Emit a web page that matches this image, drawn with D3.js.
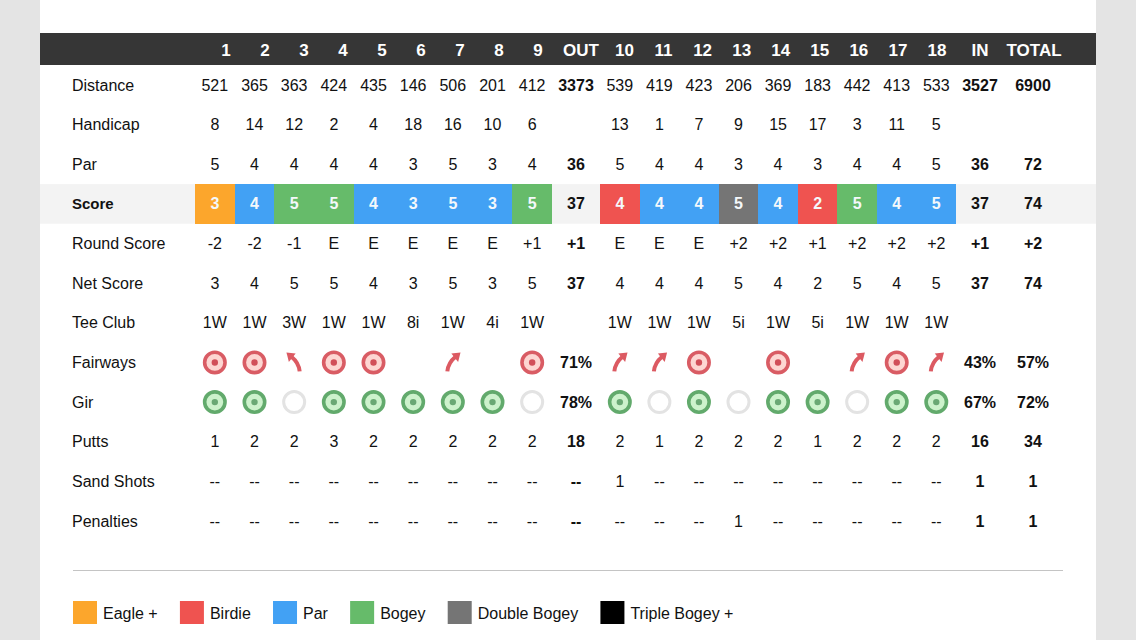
<!DOCTYPE html>
<html>
<head>
<meta charset="utf-8">
<script src="https://cdn.jsdelivr.net/npm/d3@7"></script>
<style>
html, body { margin: 0; padding: 0; background: #e4e4e4; overflow: hidden; }
svg { display: block; }
text { font-family: "Liberation Sans", Arimo, Helvetica, Arial, sans-serif; fill: #111; }
.fairways, .gir { filter: blur(0.45px); }
</style>
</head>
<body>
<svg id="scorecard" width="1136" height="640"></svg>
<script>
var front_holes = ["1", "2", "3", "4", "5", "6", "7", "8", "9"];
var back_holes = ["10", "11", "12", "13", "14", "15", "16", "17", "18"];
var holes = front_holes.concat(back_holes);
var summary_cols = ["OUT", "IN", "TOTAL"];
var row_names = ["Distance", "Handicap", "Par", "Score", "Round Score", "Net Score", "Tee Club", "Fairways", "Gir", "Putts", "Sand Shots", "Penalties"];

var distance = ["521", "365", "363", "424", "435", "146", "506", "201", "412", "539", "419", "423", "206", "369", "183", "442", "413", "533"];
var handicap = ["8", "14", "12", "2", "4", "18", "16", "10", "6", "13", "1", "7", "9", "15", "17", "3", "11", "5"];
var par = ["5", "4", "4", "4", "4", "3", "5", "3", "4", "5", "4", "4", "3", "4", "3", "4", "4", "5"];
var score = ["3", "4", "5", "5", "4", "3", "5", "3", "5", "4", "4", "4", "5", "4", "2", "5", "4", "5"];
var score_type = ["Eagle +", "Par", "Bogey", "Bogey", "Par", "Par", "Par", "Par", "Bogey", "Birdie", "Par", "Par", "Double Bogey", "Par", "Birdie", "Bogey", "Par", "Par"];
var round_score = ["-2", "-2", "-1", "E", "E", "E", "E", "E", "+1", "E", "E", "E", "+2", "+2", "+1", "+2", "+2", "+2"];
var net_score = ["3", "4", "5", "5", "4", "3", "5", "3", "5", "4", "4", "4", "5", "4", "2", "5", "4", "5"];
var tee_club = ["1W", "1W", "3W", "1W", "1W", "8i", "1W", "4i", "1W", "1W", "1W", "1W", "5i", "1W", "5i", "1W", "1W", "1W"];
var fairways = ["hit", "hit", "left", "hit", "hit", "", "right", "", "hit", "right", "right", "hit", "", "hit", "", "right", "hit", "right"];
var gir = ["hit", "hit", "miss", "hit", "hit", "hit", "hit", "hit", "miss", "hit", "miss", "hit", "miss", "hit", "hit", "miss", "hit", "hit"];
var putts = ["1", "2", "2", "3", "2", "2", "2", "2", "2", "2", "1", "2", "2", "2", "1", "2", "2", "2"];
var sand_shots = ["--", "--", "--", "--", "--", "--", "--", "--", "--", "1", "--", "--", "--", "--", "--", "--", "--", "--"];
var penalties = ["--", "--", "--", "--", "--", "--", "--", "--", "--", "--", "--", "--", "1", "--", "--", "--", "--", "--"];

// OUT, IN, TOTAL per row
var distance_sum = ["3373", "3527", "6900"];
var handicap_sum = ["", "", ""];
var par_sum = ["36", "36", "72"];
var score_sum = ["37", "37", "74"];
var round_sum = ["+1", "+1", "+2"];
var net_sum = ["37", "37", "74"];
var tee_sum = ["", "", ""];
var fairways_sum = ["71%", "43%", "57%"];
var gir_sum = ["78%", "67%", "72%"];
var putts_sum = ["18", "16", "34"];
var sand_sum = ["--", "1", "1"];
var penalties_sum = ["--", "1", "1"];

var legend_names = ["Eagle +", "Birdie", "Par", "Bogey", "Double Bogey", "Triple Bogey +"];
var legend_colors = ["#fca62c", "#ef5350", "#42a1f4", "#66bb6a", "#757575", "#000000"];

var svg = d3.select("svg#scorecard");
var color = d3.scaleOrdinal().domain(legend_names).range(legend_colors);

var x_front = d3.scaleBand().domain(front_holes).range([195, 552]);
var x_back = d3.scaleBand().domain(back_holes).range([600, 956]);
var x_summary = d3.scaleOrdinal().domain(summary_cols).range([576, 980, 1033]);
var y_row = d3.scalePoint().domain(row_names).range([85, 521]);

// the header columns sit on their own grid, not above the body cells
var head_front = d3.scalePoint().domain(front_holes).range([226, 538]);
var head_back = d3.scalePoint().domain(back_holes).range([624.5, 937]);
var head_summary = d3.scaleOrdinal().domain(summary_cols).range([581, 980, 1034]);

function holeLeft(h) {
    return front_holes.indexOf(h) >= 0 ? x_front(h) : x_back(h);
}
function holeX(h) {
    return holeLeft(h) + x_front.bandwidth() / 2;
}
function headX(h) {
    return front_holes.indexOf(h) >= 0 ? head_front(h) : head_back(h);
}
function baseline(name) {
    return Math.floor(y_row(name)) + 6;
}

// page panel
svg.append("rect").attr("x", 40).attr("y", 0).attr("width", 1056).attr("height", 640).attr("fill", "#ffffff");

// header
svg.append("rect").attr("x", 40).attr("y", 33).attr("width", 1056).attr("height", 32).attr("fill", "#363636");

var header = svg.append("g").attr("class", "header");
header.selectAll(".hole-head")
    .data(holes)
    .enter()
    .append("text")
    .attr("class", "hole-head")
    .attr("x", d => headX(d))
    .attr("y", 55.5)
    .attr("text-anchor", "middle")
    .style("font-size", "17px")
    .style("font-weight", "bold")
    .style("fill", "#ffffff")
    .text(d => d);
header.selectAll(".sum-head")
    .data(summary_cols)
    .enter()
    .append("text")
    .attr("class", "sum-head")
    .attr("x", d => head_summary(d))
    .attr("y", 55.5)
    .attr("text-anchor", "middle")
    .style("font-size", "17px")
    .style("font-weight", "bold")
    .style("fill", "#ffffff")
    .text(d => d);

// score row background and cells
var rowH = y_row.step();
svg.append("rect")
    .attr("x", 40)
    .attr("y", y_row("Score") - rowH / 2)
    .attr("width", 1056)
    .attr("height", rowH)
    .attr("fill", "#f3f3f3");

svg.append("g").selectAll("rect")
    .data(holes)
    .enter()
    .append("rect")
    .attr("x", d => holeLeft(d))
    .attr("y", y_row("Score") - rowH / 2)
    .attr("width", x_front.bandwidth())
    .attr("height", rowH)
    .attr("fill", (d, i) => color(score_type[i]))
    .attr("shape-rendering", "crispEdges");

// row labels
svg.append("g").selectAll("text")
    .data(row_names)
    .enter()
    .append("text")
    .attr("x", 72)
    .attr("y", d => baseline(d))
    .style("font-size", d => d == "Score" ? "15px" : "16px")
    .style("font-weight", d => d == "Score" ? "bold" : "normal")
    .text(d => d);

// plain text rows
var text_rows = [
    ["Distance", distance, distance_sum],
    ["Handicap", handicap, handicap_sum],
    ["Par", par, par_sum],
    ["Score", score, score_sum],
    ["Round Score", round_score, round_sum],
    ["Net Score", net_score, net_sum],
    ["Tee Club", tee_club, tee_sum],
    ["Fairways", [], fairways_sum],
    ["Gir", [], gir_sum],
    ["Putts", putts, putts_sum],
    ["Sand Shots", sand_shots, sand_sum],
    ["Penalties", penalties, penalties_sum]
];

text_rows.forEach(function(r) {
    var g = svg.append("g").attr("class", "row");
    g.selectAll(".cell")
        .data(r[1])
        .enter()
        .append("text")
        .attr("class", "cell")
        .attr("x", (d, i) => holeX(holes[i]))
        .attr("y", baseline(r[0]))
        .attr("text-anchor", "middle")
        .style("font-size", "16px")
        .style("font-weight", r[0] == "Score" ? "bold" : "normal")
        .style("fill", r[0] == "Score" ? "#f4f8fb" : "#111")
        .text(d => d);
    g.selectAll(".sum")
        .data(r[2])
        .enter()
        .append("text")
        .attr("class", "sum")
        .attr("x", (d, i) => x_summary(summary_cols[i]))
        .attr("y", baseline(r[0]))
        .attr("text-anchor", "middle")
        .style("font-size", "16px")
        .style("font-weight", "bold")
        .text(d => d);
});

// target icons
function drawTarget(g, ring, fill, dot) {
    g.append("circle").attr("r", 10.2).attr("fill", fill).attr("stroke", ring).attr("stroke-width", 3.6);
    g.append("circle").attr("r", 3.2).attr("fill", dot);
}

var fairway_cells = svg.append("g").attr("class", "fairways")
    .selectAll("g")
    .data(fairways)
    .enter()
    .append("g")
    .attr("transform", function(d, i) {
        var pos = "translate(" + holeX(holes[i]) + "," + y_row("Fairways") + ")";
        return d == "left" ? pos + " scale(-1,1)" : pos;
    });

fairway_cells.filter(d => d == "hit").each(function() {
    drawTarget(d3.select(this), "#d95c64", "#fdd6d2", "#d14f59");
});

var arrows = fairway_cells.filter(d => d == "left" || d == "right");
arrows.append("path")
    .attr("d", "M-5.5,9 C-5,3 -2,-2 3,-6")
    .attr("fill", "none")
    .attr("stroke", "#dc5a62")
    .attr("stroke-width", 4);
arrows.append("path")
    .attr("d", "M-1.5,-9 L7.7,-10 L5.3,-0.5 Z")
    .attr("fill", "#dc5a62");

var gir_cells = svg.append("g").attr("class", "gir")
    .selectAll("g")
    .data(gir)
    .enter()
    .append("g")
    .attr("transform", (d, i) => "translate(" + holeX(holes[i]) + "," + y_row("Gir") + ")");

gir_cells.filter(d => d == "hit").each(function() {
    drawTarget(d3.select(this), "#62aa6c", "#cdf2cc", "#6aa874");
});
gir_cells.filter(d => d == "miss")
    .append("circle")
    .attr("r", 10.5)
    .attr("fill", "#ffffff")
    .attr("stroke", "#e3e3e3")
    .attr("stroke-width", 3);

// divider
svg.append("line")
    .attr("x1", 73).attr("x2", 1063)
    .attr("y1", 570.5).attr("y2", 570.5)
    .attr("stroke", "#c4c4c4")
    .attr("stroke-width", 1);

// legend, each item follows the width of the one before
var legend = svg.append("g").attr("class", "legend");
var legend_x = 73;
legend_names.forEach(function(name) {
    legend.append("rect")
        .attr("x", legend_x).attr("y", 601)
        .attr("width", 24).attr("height", 23)
        .attr("fill", color(name));
    var label = legend.append("text")
        .attr("x", legend_x + 30)
        .attr("y", 619)
        .style("font-size", "16px")
        .text(name);
    legend_x += 30 + label.node().getComputedTextLength() + 22.2;
});
</script>
</body>
</html>
